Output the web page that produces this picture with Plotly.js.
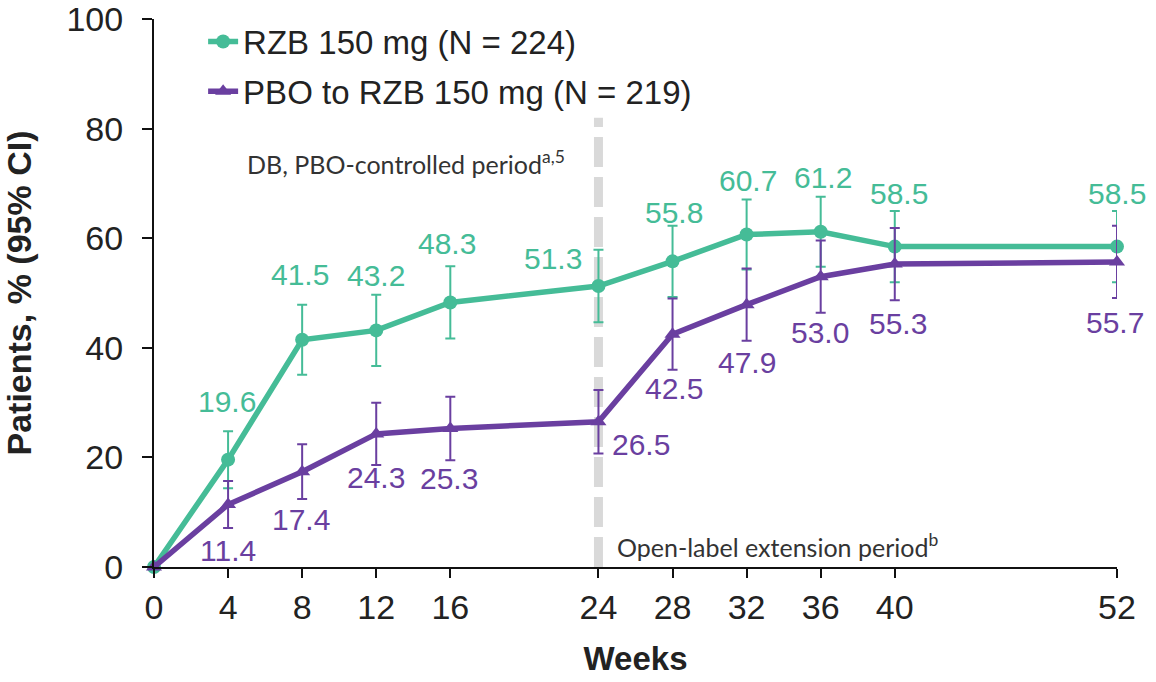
<!DOCTYPE html>
<html>
<head>
<meta charset="utf-8">
<script src="https://cdn.plot.ly/plotly-3.0.1.min.js"></script>
<style>html,body{margin:0;padding:0;background:#fff;}#chart{width:1156px;height:682px;}</style>
</head>
<body>
<div id="chart"></div>
<script>
// ---- data ----
const weeks = [0, 4, 8, 12, 16, 24, 28, 32, 36, 40, 52];
const rzbValues = [0, 19.6, 41.5, 43.2, 48.3, 51.3, 55.8, 60.7, 61.2, 58.5, 58.5];
const rzbCI = [0, 5.2, 6.4, 6.5, 6.6, 6.6, 6.5, 6.4, 6.4, 6.5, 6.5];
const pboValues = [0, 11.4, 17.4, 24.3, 25.3, 26.5, 42.5, 47.9, 53.0, 55.3, 55.7];
const pboCI = [0, 4.3, 5.0, 5.7, 5.8, 5.8, 6.5, 6.6, 6.6, 6.6, 6.6];
const rzbName = 'RZB 150 mg (N = 224)';
const pboName = 'PBO to RZB 150 mg (N = 219)';
const xTickVals = [0, 4, 8, 12, 16, 24, 28, 32, 36, 40, 52];
const yTickVals = [0, 20, 40, 60, 80, 100];
const periodWeek = 24;
const periodLabelDB = 'DB, PBO-controlled period<sup>a,5</sup>';
const periodLabelOLE = 'Open-label extension period<sup>b</sup>';

// ---- styles (label offsets in pixels) ----
const green = '#45BC97';
const purple = '#6A3FA0';
const rzbShiftY = [null, 58, 65, 55, 59, 28, 49, 54, 54, 53, 53];
const rzbShiftX = [0, -1, -2, 0, -3, -45, 1, 1, 2, 4, 0];
const pboShiftY = [null, -46, -48, -44, -50, -23, -54, -58, -56, -59, -61];
const pboShiftX = [0, 0, -1, 0, -1, 43, 1, 0, -1, 3, -2];
const FONT = 'Liberation Sans, Arial, sans-serif';

const traces = [
  {
    x: weeks, y: rzbValues, name: rzbName, type: 'scatter', mode: 'lines+markers',
    line: {color: green, width: 5.5}, marker: {color: green, size: 14, symbol: 'circle'},
    error_y: {type: 'data', array: rzbCI, visible: true, color: green, thickness: 2, width: 5},
    cliponaxis: false, legendgroup: 'a'
  },
  {
    x: weeks, y: pboValues, name: pboName, type: 'scatter', mode: 'lines+markers',
    line: {color: purple, width: 5.5}, marker: {color: purple, size: 14, symbol: 'triangle-up'},
    error_y: {type: 'data', array: pboCI, visible: true, color: purple, thickness: 2, width: 5},
    cliponaxis: false, legendgroup: 'b'
  }
];

const annotations = [];
weeks.forEach((w, i) => {
  if (rzbShiftY[i] !== null) {
    annotations.push({x: w, y: rzbValues[i], xref: 'x', yref: 'y', text: rzbValues[i].toFixed(1),
      showarrow: false, xshift: rzbShiftX[i], yshift: rzbShiftY[i],
      font: {family: FONT, size: 30, color: green}});
  }
  if (pboShiftY[i] !== null) {
    annotations.push({x: w, y: pboValues[i], xref: 'x', yref: 'y', text: pboValues[i].toFixed(1),
      showarrow: false, xshift: pboShiftX[i], yshift: pboShiftY[i],
      font: {family: FONT, size: 30, color: purple}});
  }
});
annotations.push({x: 4.9, y: 73.9, xref: 'x', yref: 'y', xanchor: 'left', yanchor: 'middle',
  text: periodLabelDB, showarrow: false, font: {family: 'Lato, sans-serif', size: 25, color: '#333'}});
annotations.push({x: 24.9, y: 4.0, xref: 'x', yref: 'y', xanchor: 'left', yanchor: 'middle',
  text: periodLabelOLE, showarrow: false, font: {family: 'Lato, sans-serif', size: 25, color: '#333'}});

const layout = {
  width: 1156, height: 682,
  margin: {l: 154, r: 39, t: 19, b: 115},
  paper_bgcolor: '#fff', plot_bgcolor: '#fff',
  showlegend: true,
  legend: {x: 0.051, y: 1.01, xanchor: 'left', yanchor: 'top', bgcolor: 'rgba(0,0,0,0)',
    font: {family: FONT, size: 33, color: '#222'}, tracegroupgap: 4, itemwidth: 30},
  xaxis: {
    range: [0, 52], tickvals: xTickVals, ticktext: xTickVals.map(String),
    showgrid: false, zeroline: false, showline: true, linecolor: '#111', linewidth: 2,
    ticks: 'outside', ticklen: 9, tickwidth: 2, tickcolor: '#111',
    tickfont: {family: FONT, size: 34, color: '#222'},
    title: {text: '<b>Weeks</b>', font: {family: FONT, size: 33, color: '#222'}, standoff: 22}
  },
  yaxis: {
    range: [0, 100.05], tickvals: yTickVals, ticktext: yTickVals.map(String),
    showgrid: false, zeroline: false, showline: true, linecolor: '#111', linewidth: 2,
    ticks: 'outside', ticklen: 10, tickwidth: 2, tickcolor: '#111',
    tickfont: {family: FONT, size: 34, color: '#222'}, ticklabelstandoff: 12,
    title: {text: '<b>Patients, % (95% CI)</b>', font: {family: FONT, size: 34, color: '#222'}, standoff: 28}
  },
  shapes: [{
    type: 'line', xref: 'x', yref: 'y', x0: periodWeek, x1: periodWeek, y0: 0, y1: 82,
    line: {color: '#d9d9d9', width: 9, dash: '30px,10px'}, layer: 'below'
  }],
  annotations: annotations
};

Plotly.newPlot('chart', traces, layout, {displayModeBar: false, staticPlot: true});
</script>
</body>
</html>
